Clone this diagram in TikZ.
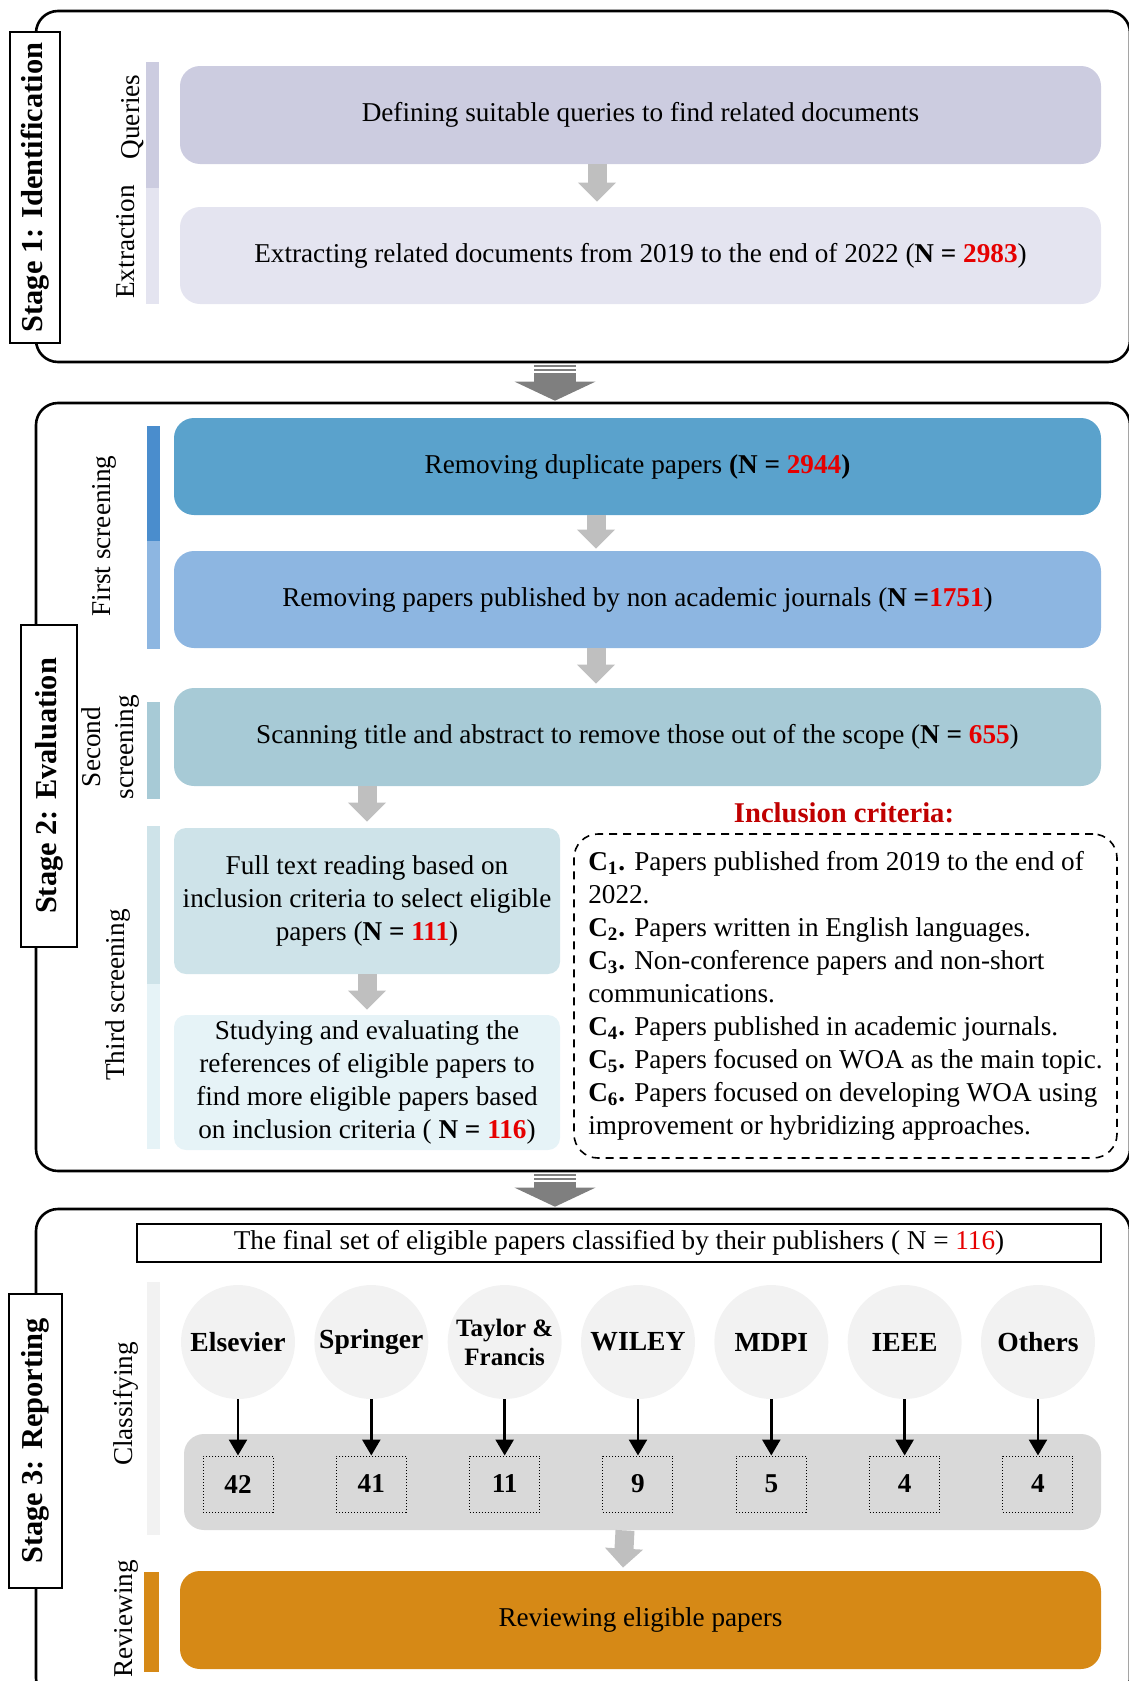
\documentclass[tikz,border=0pt]{standalone}
\usepackage{fontspec}
\setmainfont{Liberation Serif}
\usetikzlibrary{arrows.meta, calc}
\usetikzlibrary{positioning}

\definecolor{qcol}{RGB}{204,204,224}
\definecolor{ecol}{RGB}{228,228,240}
\definecolor{rone}{RGB}{90,162,204}
\definecolor{fsdark}{RGB}{74,141,205}
\definecolor{rtwo}{RGB}{141,182,225}
\definecolor{sccol}{RGB}{167,202,214}
\definecolor{ftcol}{RGB}{206,227,233}
\definecolor{stcol}{RGB}{230,243,247}
\definecolor{pubgrey}{RGB}{242,242,242}
\definecolor{bandgrey}{RGB}{217,217,217}
\definecolor{revorange}{RGB}{214,137,22}
\definecolor{flowgrey}{RGB}{191,191,191}
\definecolor{stagegrey}{RGB}{127,127,127}
\definecolor{numred}{RGB}{230,0,0}
\definecolor{incred}{RGB}{192,0,0}
\newcommand{\nred}[1]{\textcolor{numred}{#1}}

\begin{document}
\begin{tikzpicture}[x=0.5pt, y=-0.5pt,
    every node/.style={font=\fontsize{13.6}{16.5}\selectfont, inner sep=0pt},
    stageframe/.style={draw, line width=1.3pt, rounded corners=11pt, minimum width=547pt},
    stagelabel/.style={draw, fill=white, line width=0.8pt, rotate=90, font=\fontsize{15.2}{18}\selectfont\bfseries},
    procbox/.style={rounded corners=10pt, minimum width=460.5pt, minimum height=49pt, align=center},
    sidebar/.style={minimum width=6.5pt},
    sidetext/.style={rotate=90, align=center},
    flowarrow/.style={line width=9.5pt, flowgrey, -{Triangle[length=9.5pt, width=18.5pt]}},
    stagearrow/.style={line width=21pt, stagegrey, dash pattern=on 1pt off 1pt on 1pt off 1pt on 40pt, -{Triangle[length=9.5pt, width=40pt]}},
    publisher/.style={circle, fill=pubgrey, minimum size=57pt, align=center},
    tallybox/.style={draw, densely dotted, line width=0.5pt, minimum width=35pt, minimum height=28pt, font=\fontsize{13.6}{16}\selectfont\bfseries},
    tallyarrow/.style={line width=1.3pt, -{Triangle[length=8pt, width=9pt]}}
  ]
    \useasboundingbox (0,0) rectangle (1129,1681);
    \clip (0,0) rectangle (1129,1681);

    % Stage 1
    \node[stageframe, minimum height=175.5pt] at (583,186.5) (S1) {};
    \node[stagelabel, minimum width=155.5pt, minimum height=25pt] at (35,187.5) (L1) {Stage 1: Identification};
    \node[sidebar, fill=qcol, minimum height=63pt] at (152.5,125) (QB) {};
    \node[sidebar, fill=ecol, minimum height=58pt] at (152.5,246) (EB) {};
    \node[sidetext] at (133,117) (QT) {Queries};
    \node[sidetext] at (126,242) (ET) {Extraction};
    \node[procbox, fill=qcol] at (640.5,115) (Q) {Defining suitable queries to find related documents};
    \node[procbox, fill=ecol, minimum height=48.5pt] at (640.5,255.5) (E) {Extracting related documents from 2019 to the end of 2022 (\textbf{N = \nred{2983}})};
    \draw[flowarrow] ([xshift=-21.75pt]Q.south) -- ([xshift=-21.75pt, yshift=2.5pt]E.north);

    % Stage 2
    \node[stageframe, minimum height=384pt] at (583,787) (S2) {};
    \draw[stagearrow] ([xshift=-14pt, yshift=-1pt]S1.south) -- ([xshift=-14pt, yshift=0.5pt]S2.north);
    \node[stagelabel, minimum width=161pt, minimum height=28pt] at (49,786) (L2) {Stage 2: Evaluation};
    \node[sidebar, fill=fsdark, minimum height=57.5pt] at (153.5,483.5) (FB1) {};
    \node[sidebar, fill=rtwo, minimum height=54pt] at (153.5,595) (FB2) {};
    \node[sidebar, fill=sccol, minimum height=48.5pt] at (153.5,750.5) (SB) {};
    \node[sidebar, fill=ftcol, minimum height=79pt] at (153.5,905) (TB1) {};
    \node[sidebar, fill=stcol, minimum height=82.5pt] at (153.5,1066.5) (TB2) {};
    \node[sidetext] at (104,536) (FT1) {First screening};
    \node[sidetext] at (110,747) (ST1) {Second\\screening};
    \node[sidetext] at (118,995) (TT1) {Third screening};
    \node[procbox, fill=rone, minimum width=463.5pt, minimum height=48.5pt] at (637.5,466.5) (R1) {Removing duplicate papers \textbf{(N = \nred{2944})}};
    \node[procbox, fill=rtwo, minimum width=463.5pt, minimum height=48.5pt] at (637.5,599.5) (R2) {Removing papers published by non academic journals (\textbf{N =\nred{1751}})};
    \node[procbox, fill=sccol, minimum width=463.5pt] at (637.5,737) (SC) {Scanning title and abstract to remove those out of the scope (\textbf{N = \nred{655}})};
    \node[procbox, fill=ftcol, rounded corners=6pt, minimum width=193pt, minimum height=73pt] at (367,901) (FT) {Full text reading based on\\inclusion criteria to select eligible\\papers (\textbf{N = \nred{111}})};
    \node[procbox, fill=stcol, rounded corners=6pt, minimum width=193pt, minimum height=67.5pt] at (367,1082.5) (ST) {Studying and evaluating the\\references of eligible papers to\\find more eligible papers based\\on inclusion criteria ( \textbf{N = \nred{116}})};
    \draw[flowarrow] ([xshift=-20.75pt]R1.south) -- ([xshift=-20.75pt, yshift=1pt]R2.north);
    \draw[flowarrow] ([xshift=-20.75pt]R2.south) -- ([xshift=-20.75pt, yshift=2pt]SC.north);
    \draw[flowarrow] (SC.south -| FT.north) -- ([yshift=3pt]FT.north);
    \draw[flowarrow] (FT.south) -- ([yshift=2.5pt]ST.north);
    \node[text=incred, font=\fontsize{14.3}{17}\selectfont\bfseries] at (844,813) (IC) {Inclusion criteria:};
    \node[draw, dash pattern=on 4pt off 3pt, line width=0.8pt, rounded corners=12pt, minimum width=271.5pt, minimum height=162pt, align=left] at (845.5,996) (CR) {%
      \textbf{C\textsubscript{1}.} Papers published from 2019 to the end of\\
      2022.\\
      \textbf{C\textsubscript{2}.} Papers written in English languages.\\
      \textbf{C\textsubscript{3}.} Non-conference papers and non-short\\
      communications.\\
      \textbf{C\textsubscript{4}.} Papers published in academic journals.\\
      \textbf{C\textsubscript{5}.} Papers focused on WOA as the main topic.\\
      \textbf{C\textsubscript{6}.} Papers focused on developing WOA using\\
      improvement or hybridizing approaches.};

    % Stage 3
    \node[stageframe, minimum height=245.5pt] at (583,1454.5) (S3) {};
    \draw[stagearrow] ([xshift=-14pt, yshift=-1pt]S2.south) -- ([xshift=-14pt, yshift=0.5pt]S3.north);
    \node[stagelabel, minimum width=147pt, minimum height=26.5pt] at (35.5,1441) (L3) {Stage 3: Reporting};
    \node[draw, line width=0.8pt, minimum width=482pt, minimum height=19pt] at (619,1243) (T) {The final set of eligible papers classified by their publishers ( N = \nred{116})};
    \node[sidebar, fill=pubgrey, minimum height=126.5pt] at (153.5,1408.5) (CB) {};
    \node[sidetext] at (126,1404) (CT) {Classifying};
    \node[fill=bandgrey, rounded corners=10pt, minimum width=458.5pt, minimum height=48pt] at (642.5,1482) (G) {};
    \foreach \name/\num/\sz [count=\i from 0] in {Elsevier/42/13.8, Springer/41/13.8, {Taylor \&\\Francis}/11/12.5, WILEY/9/13.8, MDPI/5/13.8, IEEE/4/13.8, Others/4/13.8} {
      \node[publisher, font=\fontsize{\sz}{14.5}\selectfont\bfseries] at (238+133.33*\i,1342) (P\i) {\name};
      \node[tallybox] at (238+133.33*\i,1484) (N\i) {\num};
      \draw[tallyarrow] (P\i) -- (N\i);
    }
    \node[sidebar, fill=revorange, minimum width=7.5pt, minimum height=50pt] at (151.5,1622) (RB) {};
    \node[sidetext] at (126,1619) (RT) {Reviewing};
    \node[procbox, fill=revorange] at (640.5,1620) (RV) {Reviewing eligible papers};
    \draw[flowarrow] ([xshift=-8.75pt]G.south) -- ([xshift=-8.75pt, yshift=1.5pt]RV.north);
\end{tikzpicture}
\end{document}
